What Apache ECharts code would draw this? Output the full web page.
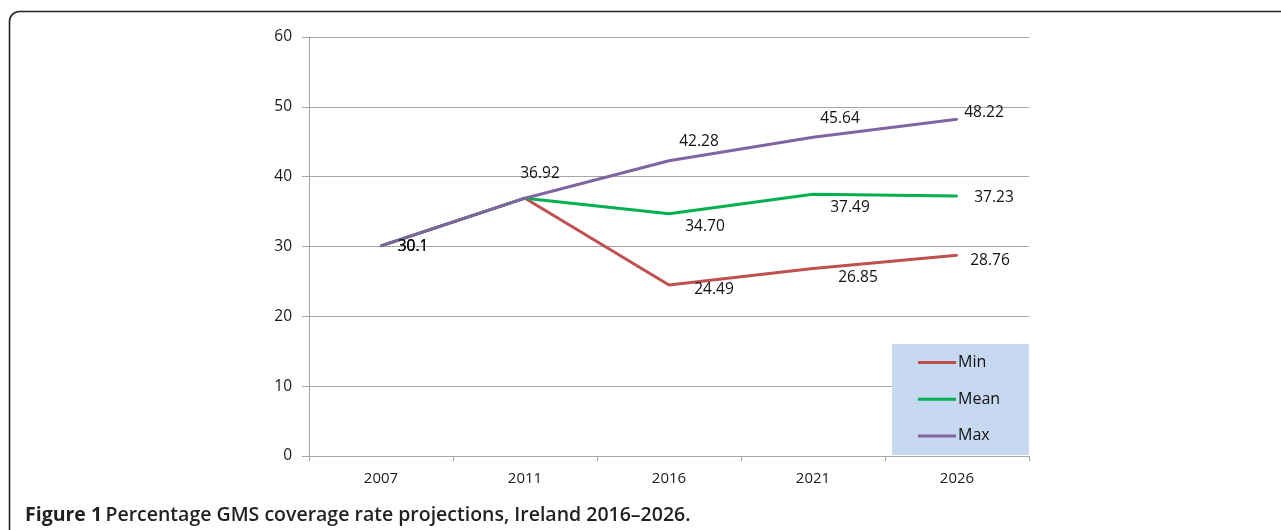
<!DOCTYPE html>
<html>
<head>
<meta charset="utf-8">
<script src="https://cdn.jsdelivr.net/npm/echarts@6/dist/echarts.min.js"></script>
<style>
html,body{margin:0;padding:0;background:#fff;}
#chart{width:1281px;height:530px;}
</style>
</head>
<body>
<div id="chart"></div>
<script>
const categories = ['2007', '2011', '2016', '2021', '2026'];
const minValues  = [30.1, 36.92, 24.49, 26.85, 28.76];
const meanValues = [30.1, 36.92, 34.70, 37.49, 37.23];
const maxValues  = [30.1, 36.92, 42.28, 45.64, 48.22];
const minLabels  = ['30.1', '', '24.49', '26.85', '28.76'];
const meanLabels = ['30.1', '', '34.70', '37.49', '37.23'];
const maxLabels  = ['30.1', '36.92', '42.28', '45.64', '48.22'];
const seriesNames = ['Min', 'Mean', 'Max'];
const yTicks = [0, 10, 20, 30, 40, 50, 60];
const caption = 'Percentage GMS coverage rate projections, Ireland 2016\u20132026.';

// label offsets (style, not data)
const minOffsets  = [[32,1],[15,-25],[45,5],[45,9],[33,5]];
const meanOffsets = [[32,1],[15,-25],[36,13],[37,13],[37,2]];
const maxOffsets  = [[32,1],[15,-25],[30,-19],[27,-19],[27,-7]];

const colors = ['#c0504d', '#00b050', '#8064a2'];
const FONT = 'Open Sans';

function mk(vals, labels, offs) {
  return vals.map((v, i) => ({
    value: v,
    label: { show: labels[i] !== '', formatter: labels[i], offset: offs[i] }
  }));
}

const chart = echarts.init(document.getElementById('chart'));
const seriesData = [mk(minValues, minLabels, minOffsets), mk(meanValues, meanLabels, meanOffsets), mk(maxValues, maxLabels, maxOffsets)];

chart.setOption({
  animation: false,
  grid: { left: 309, right: 252, top: 37, bottom: 74 },
  xAxis: {
    type: 'category',
    data: categories,
    boundaryGap: true,
    axisLine: { lineStyle: { color: '#a6a6a6', width: 1 } },
    axisTick: { show: true, length: 5, lineStyle: { color: '#a6a6a6' } },
    axisLabel: { color: '#1a1a1a', fontFamily: FONT, fontSize: 15, margin: 15 }
  },
  yAxis: {
    type: 'value',
    min: yTicks[0],
    max: yTicks[yTicks.length - 1],
    interval: 10,
    axisLine: { show: true, lineStyle: { color: '#a6a6a6', width: 1 } },
    axisTick: { show: true, length: 7, lineStyle: { color: '#a6a6a6' } },
    splitLine: { lineStyle: { color: '#a6a6a6', width: 1 } },
    axisLabel: { color: '#1a1a1a', fontFamily: FONT, fontSize: 15.5, margin: 17 }
  },
  series: seriesNames.map((n, k) => ({
    name: n,
    type: 'line',
    data: seriesData[k],
    symbol: 'circle',
    symbolSize: 2,
    showSymbol: true,
    itemStyle: { color: colors[k] },
    lineStyle: { color: colors[k], width: 3 },
    label: {
      show: true,
      position: 'inside',
      color: '#111',
      fontFamily: FONT,
      fontSize: 15.5
    },
    z: 2 + k
  })),
  graphic: [
    {
      type: 'rect',
      shape: { x: 9.5, y: 11.5, width: 1400, height: 700, r: 10 },
      style: { fill: 'none', stroke: '#222', lineWidth: 1.6 },
      z: 100
    },
    {
      type: 'rect',
      shape: { x: 892, y: 344, width: 137, height: 111 },
      style: { fill: '#c6d9f1' },
      z: 10
    },
    ...seriesNames.flatMap((n, k) => [
      {
        type: 'line',
        shape: { x1: 918, y1: 362.5 + k * 36.7, x2: 956, y2: 362.5 + k * 36.7 },
        style: { stroke: colors[k], lineWidth: 3 },
        z: 11
      },
      {
        type: 'text',
        x: 958, y: 362.5 + k * 36.7,
        style: { text: n, fill: '#111', font: '16px "' + FONT + '"', verticalAlign: 'middle', align: 'left' },
        z: 11
      }
    ]),
    {
      type: 'text',
      x: 25, y: 515,
      style: {
        text: '{b|Figure 1} {n|' + caption + '}',
        verticalAlign: 'middle',
        rich: {
          b: { fontFamily: FONT, fontSize: 19.5, fontWeight: 'bold', fill: '#231f20', color: '#231f20' },
          n: { fontFamily: FONT, fontSize: 19.5, fontWeight: 600, fill: '#231f20', color: '#231f20' }
        }
      },
      z: 20
    }
  ]
});
</script>
</body>
</html>
